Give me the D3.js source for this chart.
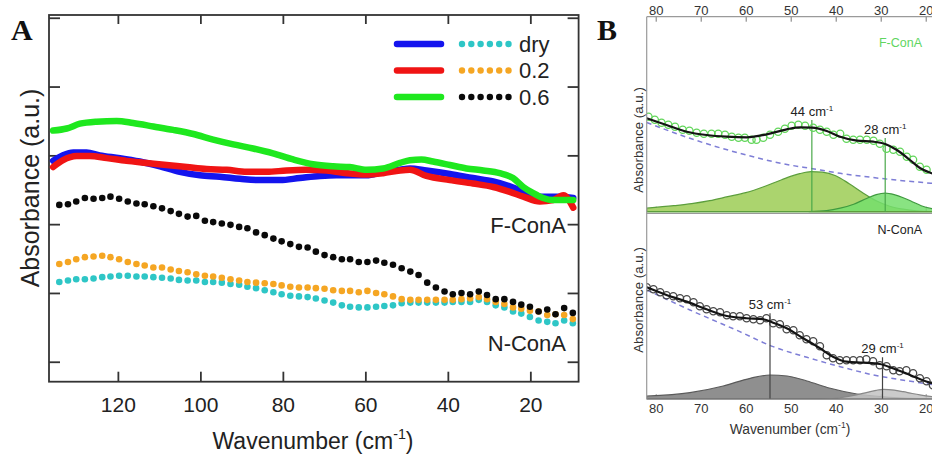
<!DOCTYPE html>
<html><head><meta charset="utf-8">
<script src="https://cdn.jsdelivr.net/npm/d3@7"></script>
<style>
html,body{margin:0;padding:0;background:#fff;}
svg{display:block;font-family:"Liberation Sans",Arial,sans-serif;}
</style>
</head><body>
<svg id="c" width="932" height="457"></svg>
<script>
// ---------------- Panel A data ----------------
const xTicksA = [120, 100, 80, 60, 40, 20];
const yTicksA = [0, 1, 2, 3, 4, 5];
const legendLabels = ["dry", "0.2", "0.6"];

// N-ConA (dotted markers) wavenumber grid
const wnDots = [134.2,132.1,130.1,128.0,125.9,123.8,121.8,119.7,117.6,115.5,113.5,111.4,109.3,107.2,105.2,103.1,101.0,98.9,96.9,94.8,
  92.7,90.6,88.6,86.5,84.4,82.3,80.3,78.2,76.1,74.0,72.0,69.9,67.8,65.7,63.7,61.6,59.5,57.4,55.4,53.3,
  51.2,49.1,47.1,45.0,42.9,40.8,38.8,36.7,34.6,32.5,30.5,28.4,26.3,24.2,22.2,20.1,18.0,15.9,13.9,11.8,9.7];
const nDry = [1.16,1.18,1.20,1.20,1.21,1.23,1.24,1.25,1.25,1.24,1.24,1.23,1.22,1.21,1.19,1.18,1.18,1.16,1.16,1.15,
  1.13,1.12,1.09,1.07,1.04,1.01,0.98,0.96,0.95,0.94,0.92,0.89,0.86,0.82,0.80,0.79,0.79,0.80,0.81,0.82,
  0.85,0.86,0.86,0.86,0.86,0.86,0.87,0.87,0.87,0.90,0.87,0.82,0.79,0.73,0.70,0.65,0.60,0.58,0.56,0.60,0.56];
const n02 = [1.42,1.45,1.49,1.52,1.53,1.54,1.52,1.49,1.45,1.42,1.40,1.37,1.37,1.34,1.32,1.30,1.27,1.25,1.24,1.22,
  1.20,1.18,1.16,1.15,1.14,1.13,1.11,1.09,1.08,1.08,1.07,1.06,1.04,1.03,1.03,1.01,1.03,1.00,0.98,0.95,
  0.91,0.90,0.90,0.90,0.90,0.90,0.90,0.91,0.92,0.94,0.91,0.87,0.84,0.79,0.77,0.74,0.73,0.68,0.69,0.68,0.62];
const n06 = [2.28,2.29,2.33,2.38,2.37,2.38,2.40,2.37,2.33,2.30,2.29,2.26,2.23,2.19,2.15,2.11,2.12,2.05,2.03,2.01,
  1.99,1.96,1.94,1.88,1.84,1.79,1.75,1.71,1.67,1.66,1.60,1.55,1.52,1.49,1.49,1.45,1.45,1.47,1.44,1.41,
  1.36,1.31,1.26,1.15,1.08,1.02,0.98,1.00,0.98,1.02,0.97,0.91,0.91,0.87,0.83,0.80,0.73,0.76,0.69,0.78,0.71];

// F-ConA (solid lines)
const fDryWn = [135.7,133.3,130.8,127.6,124.4,119.5,114.7,109.8,105.0,100.1,95.3,90.4,85.6,80.7,75.9,71.0,67.0,59.7,55.7,51.6,49.2,45.2,39.5,33.9,29.0,25.0,21.7,19.3,16.1,12.8,9.6];
const fDry = [2.92,3.00,3.04,3.04,3.00,2.96,2.91,2.84,2.76,2.71,2.69,2.66,2.64,2.64,2.67,2.70,2.71,2.71,2.76,2.79,2.81,2.78,2.73,2.67,2.62,2.55,2.47,2.40,2.40,2.40,2.38];
const f02Wn = [135.7,133.3,130.0,126.8,122.7,117.9,113.0,108.2,103.3,98.5,93.6,88.8,83.9,79.1,74.3,69.4,64.5,59.7,55.7,51.6,49.2,45.2,39.5,33.9,29.0,25.0,21.7,17.7,14.5,12.0,9.6];
const f02 = [2.83,2.93,2.99,2.99,2.96,2.92,2.89,2.86,2.83,2.80,2.79,2.76,2.76,2.78,2.79,2.78,2.74,2.72,2.74,2.78,2.79,2.70,2.64,2.59,2.54,2.47,2.40,2.33,2.35,2.42,2.24];
const f06Wn = [135.7,132.4,129.2,125.2,120.3,116.3,111.4,106.6,101.7,96.9,92.0,87.2,82.4,77.5,72.7,67.8,63.8,59.7,55.7,51.6,49.2,46.4,43.6,39.5,35.5,31.4,27.4,24.2,21.7,19.3,16.9,14.5,12.0,9.6];
const f06 = [3.36,3.39,3.46,3.49,3.50,3.47,3.42,3.37,3.31,3.23,3.16,3.10,3.03,2.94,2.87,2.84,2.83,2.79,2.81,2.89,2.93,2.94,2.91,2.86,2.81,2.78,2.74,2.67,2.54,2.45,2.38,2.35,2.35,2.35];

// ---------------- Panel B data ----------------
const xTicksB = [80, 70, 60, 50, 40, 30, 20];
// F-ConA (top)
const topCircWn = [81.6,80.2,78.7,77.2,75.7,74.0,72.5,70.9,69.3,67.6,66.1,64.6,63.1,61.6,60.2,58.7,57.6,56.1,54.6,52.8,51.3,49.8,48.3,46.8,45.0,43.5,42.0,40.5,39.0,37.6,36.1,34.6,33.1,31.6,30.2,28.7,27.2,25.7,24.2,22.8,21.3,19.8];
const topCirc = [0.95,0.92,0.89,0.87,0.85,0.82,0.81,0.79,0.78,0.78,0.78,0.77,0.75,0.74,0.74,0.72,0.72,0.74,0.77,0.80,0.83,0.86,0.87,0.86,0.84,0.82,0.80,0.77,0.78,0.73,0.72,0.72,0.72,0.71,0.68,0.63,0.62,0.60,0.55,0.52,0.45,0.42];
const topFitWn = [82,77.6,73.1,68.7,64.2,59.8,55.3,50.9,47.9,45.3,42,39,35.3,31.6,29,26.4,23.5,21.2,18.6,17.6];
const topFit = [0.934,0.867,0.80,0.767,0.75,0.744,0.774,0.824,0.844,0.84,0.807,0.75,0.71,0.70,0.677,0.617,0.517,0.434,0.384,0.37];
const topBaseWn = [82,72.4,61.3,50.2,45.7,39.0,30.2,17.6];
const topBase = [0.892,0.734,0.584,0.467,0.434,0.384,0.334,0.28];
const topPkAWn = [82,76,72,68,64,60,56,52,48,45.5,43,40,37,34,31,28,25,22,17.6];
const topPkA = [0.035,0.06,0.08,0.11,0.15,0.19,0.25,0.32,0.38,0.40,0.395,0.36,0.28,0.19,0.11,0.055,0.025,0.008,0];
const topPkBWn = [46,42,39,36,33,31,29,27,25,23,21,17.6];
const topPkB = [0,0.01,0.035,0.075,0.135,0.17,0.185,0.17,0.14,0.10,0.06,0.02];
const topPeaks = [45.3, 29.0];
const topPeakTop = [0.917, 0.737];
const topPeakLabels = ["44", "28"];
// N-ConA (bottom)
const botCircWn = [82.0,80.5,79.0,77.6,76.1,74.6,73.1,71.6,70.2,68.7,67.2,65.7,64.2,62.8,61.3,59.8,58.3,56.8,55.4,53.9,52.4,50.9,49.4,48.0,46.5,45.0,43.5,42.0,40.6,39.1,37.6,36.1,34.6,33.2,31.7,30.2,28.7,27.2,25.8,24.3,22.8,21.3,19.8,18.4];
const botCirc = [1.12,1.10,1.07,1.04,1.03,1.01,1.00,0.97,0.93,0.90,0.88,0.87,0.84,0.83,0.83,0.81,0.80,0.79,0.81,0.76,0.75,0.70,0.69,0.64,0.60,0.58,0.53,0.44,0.41,0.39,0.39,0.39,0.39,0.40,0.38,0.34,0.33,0.29,0.28,0.29,0.26,0.21,0.18,0.14];
const botFitWn = [82,77.6,73.1,68.7,64.2,59.8,56.1,53.9,50.9,47.2,43.5,40.6,37.6,33.9,30.2,27.3,23.5,18.6,17.6];
const botFit = [1.12,1.043,0.976,0.90,0.833,0.81,0.80,0.766,0.71,0.61,0.51,0.426,0.376,0.366,0.353,0.31,0.243,0.16,0.15];
const botBaseWn = [82,72.4,61.3,53.9,46.4,39.0,31.6,24.2,17.6];
const botBase = [1.093,0.893,0.676,0.526,0.42,0.326,0.243,0.186,0.14];
const botPkAWn = [82,72.4,65.0,59.0,54.6,50.8,46.4,41.2,35.3,27.9,17.6];
const botPkA = [0.033,0.066,0.133,0.21,0.243,0.233,0.183,0.11,0.053,0.02,0.003];
const botPkBWn = [43,40,36,33,31,29.4,27,25,23,21,17.6];
const botPkB = [0,0.01,0.04,0.07,0.09,0.10,0.092,0.076,0.058,0.042,0.02];
const botPeaks = [54.6, 29.6];
const botPeakTop = [0.86, 0.42];
const botPeakLabels = ["53", "29"];

// ---------------- drawing ----------------
const svg = d3.select("#c");
const zip = (w, v) => w.map((d, i) => ({x: d, y: v[i]}));

function supText(g, x, y, main, sup, tail, fs, anchor, color) {
  const t = g.append("text").attr("x", x).attr("y", y).attr("font-size", fs)
    .attr("text-anchor", anchor).attr("fill", color);
  t.append("tspan").text(main);
  t.append("tspan").attr("font-size", fs * 0.62).attr("dy", -fs * 0.42).text(sup);
  if (tail) t.append("tspan").attr("dy", fs * 0.42).text(tail);
  return t;
}

// ===== Panel A =====
const A = {l: 49, r: 578.6, t: 15, b: 381.7};
const xA = d3.scaleLinear().domain([136.7, 8.3]).range([A.l, A.r]);
const yA = d3.scaleLinear().domain([-0.29, 5.04]).range([A.b, A.t]);
const gA = svg.append("g");

gA.append("rect").attr("x", A.l).attr("y", A.t).attr("width", A.r - A.l).attr("height", A.b - A.t)
  .attr("fill", "none").attr("stroke", "#333").attr("stroke-width", 1.8);

function styleAxis(g, col, w) {
  g.select(".domain").remove();
  g.selectAll(".tick line").attr("stroke", col).attr("stroke-width", w);
}
const axB = gA.append("g").attr("transform", `translate(0,${A.b})`)
  .call(d3.axisBottom(xA).tickValues(xTicksA).tickSizeInner(-10).tickSizeOuter(0).tickPadding(15.5));
styleAxis(axB, "#333", 1.8);
axB.selectAll("text").attr("font-size", 21).attr("fill", "#222").attr("font-family", "Liberation Sans, Arial, sans-serif");
const axT = gA.append("g").attr("transform", `translate(0,${A.t})`)
  .call(d3.axisTop(xA).tickValues(xTicksA).tickSizeInner(-9).tickSizeOuter(0).tickFormat(""));
styleAxis(axT, "#333", 1.8);
const axL = gA.append("g").attr("transform", `translate(${A.l},0)`)
  .call(d3.axisLeft(yA).tickValues(yTicksA).tickSizeInner(-11).tickSizeOuter(0).tickFormat(""));
styleAxis(axL, "#333", 1.8);
const axR = gA.append("g").attr("transform", `translate(${A.r},0)`)
  .call(d3.axisRight(yA).tickValues(yTicksA).tickSizeInner(-11).tickSizeOuter(0).tickFormat(""));
styleAxis(axR, "#333", 1.8);

const lineA = d3.line().x(d => xA(d.x)).y(d => yA(d.y)).curve(d3.curveMonotoneX);
const solidSeries = [
  {w: fDryWn, v: fDry, c: "#1414ee"},
  {w: f02Wn, v: f02, c: "#f01414"},
  {w: f06Wn, v: f06, c: "#1ee81e"}
];
solidSeries.forEach(s => {
  gA.append("path").datum(zip(s.w, s.v)).attr("d", lineA).attr("fill", "none")
    .attr("stroke", s.c).attr("stroke-width", 6.5).attr("stroke-linecap", "round").attr("stroke-linejoin", "round");
});
const dotSeries = [
  {v: nDry, c: "#2ec6c6"},
  {v: n02, c: "#f5a623"},
  {v: n06, c: "#0a0a0a"}
];
dotSeries.forEach(s => {
  gA.append("g").selectAll("circle").data(zip(wnDots, s.v)).join("circle")
    .attr("cx", d => xA(d.x)).attr("cy", d => yA(d.y)).attr("r", 3.3).attr("fill", s.c);
});

// legend
const legY = [44, 70.5, 97];
const legSolid = ["#1414ee", "#f01414", "#1ee81e"];
const legDot = ["#2ec6c6", "#f5a623", "#0a0a0a"];
legendLabels.forEach((lab, i) => {
  gA.append("line").attr("x1", 397).attr("x2", 441).attr("y1", legY[i]).attr("y2", legY[i])
    .attr("stroke", legSolid[i]).attr("stroke-width", 6.5).attr("stroke-linecap", "round");
  d3.range(6).forEach(k => {
    gA.append("circle").attr("cx", 462 + k * 9.3).attr("cy", legY[i]).attr("r", 3.2).attr("fill", legDot[i]);
  });
  gA.append("text").attr("x", 519).attr("y", legY[i] + 7.5).attr("font-size", 22).attr("fill", "#222").text(lab);
});

gA.append("text").attr("x", 566).attr("y", 233).attr("text-anchor", "end").attr("font-size", 22).attr("fill", "#222").text("F-ConA");
gA.append("text").attr("x", 566).attr("y", 351).attr("text-anchor", "end").attr("font-size", 22).attr("fill", "#222").text("N-ConA");

gA.append("text").attr("x", 39).attr("y", 188).attr("text-anchor", "middle").attr("font-size", 25).attr("fill", "#222")
  .attr("transform", "rotate(-90,39,188)").text("Absorbance (a.u.)");
supText(gA, 313, 449, "Wavenumber (cm", "-1", ")", 23, "middle", "#222");

svg.append("text").attr("x", 11).attr("y", 40).attr("font-family", "Liberation Serif, Times New Roman, serif")
  .attr("font-weight", "bold").attr("font-size", 30).attr("fill", "#111").text("A");
svg.append("text").attr("x", 597).attr("y", 40).attr("font-family", "Liberation Serif, Times New Roman, serif")
  .attr("font-weight", "bold").attr("font-size", 30).attr("fill", "#111").text("B");

// ===== Panel B =====
const B = {l: 646.7, r: 936.5, t: 16.7, mid1: 211.7, mid2: 213.5, b: 399.3};
const xB = d3.scaleLinear().domain([82, 17.6]).range([B.l, B.r]);
const yBt = d3.scaleLinear().domain([0, 1.95]).range([B.mid1, B.t]);
const yBb = d3.scaleLinear().domain([0, 1.857]).range([B.b, B.mid2]);
const gB = svg.append("g");
const defs = svg.append("defs");
defs.append("clipPath").attr("id", "clipT").append("rect").attr("x", B.l).attr("y", B.t).attr("width", B.r - B.l).attr("height", B.mid1 - B.t + 1);
defs.append("clipPath").attr("id", "clipB").append("rect").attr("x", B.l).attr("y", B.mid2).attr("width", B.r - B.l).attr("height", B.b - B.mid2);

const bT = gB.append("g").attr("transform", `translate(0,${B.t})`)
  .call(d3.axisTop(xB).tickValues(xTicksB).tickSizeInner(-5).tickSizeOuter(0).tickPadding(2));
styleAxis(bT, "#777", 1);
bT.selectAll("text").attr("font-size", 13).attr("fill", "#333").attr("font-family", "Liberation Sans, Arial, sans-serif");
const bM = gB.append("g").attr("transform", `translate(0,${B.mid1})`)
  .call(d3.axisBottom(xB).tickValues(xTicksB).tickSizeInner(-5).tickSizeOuter(0).tickFormat(""));
styleAxis(bM, "#777", 1);
const bB = gB.append("g").attr("transform", `translate(0,${B.b})`)
  .call(d3.axisBottom(xB).tickValues(xTicksB).tickSizeInner(-5).tickSizeOuter(0).tickPadding(4.5));
styleAxis(bB, "#777", 1);
bB.selectAll("text").attr("font-size", 13).attr("fill", "#333").attr("font-family", "Liberation Sans, Arial, sans-serif");

function drawSub(yS, clip, p) {
  const g = gB.append("g").attr("clip-path", `url(#${clip})`);
  const y0 = yS(0);
  const area = d3.area().x(d => xB(d.x)).y0(y0).y1(d => yS(d.y)).curve(d3.curveMonotoneX);
  const line = d3.line().x(d => xB(d.x)).y(d => yS(d.y)).curve(d3.curveMonotoneX);
  g.append("path").datum(zip(p.aW, p.aV)).attr("d", area).attr("fill", p.aFill).attr("stroke", p.aStroke).attr("stroke-width", 1.2);
  g.append("path").datum(zip(p.bW, p.bV)).attr("d", area).attr("fill", p.bFill).attr("fill-opacity", 0.85).attr("stroke", p.bStroke).attr("stroke-width", 1.2);
  g.append("line").attr("x1", B.l).attr("x2", B.r).attr("y1", y0).attr("y2", y0).attr("stroke", p.aStroke).attr("stroke-width", 1.5);
  g.append("path").datum(zip(p.baseW, p.baseV)).attr("d", line).attr("fill", "none")
    .attr("stroke", "#7e7ed6").attr("stroke-width", 1.5).attr("stroke-dasharray", "5,4");
  p.peaks.forEach((pk, i) => {
    g.append("line").attr("x1", xB(pk)).attr("x2", xB(pk)).attr("y1", yS(p.peakTop[i])).attr("y2", y0)
      .attr("stroke", p.vline).attr("stroke-width", 1.2);
    supText(gB, xB(pk), yS(p.peakTop[i]) - 4, p.labels[i] + " cm", "-1", null, 13, "middle", "#222");
  });
  g.append("g").selectAll("circle").data(zip(p.cW, p.cV)).join("circle")
    .attr("cx", d => xB(d.x)).attr("cy", d => yS(d.y)).attr("r", 3.6)
    .attr("fill", "none").attr("stroke", p.circ).attr("stroke-width", 1.3);
  g.append("path").datum(zip(p.fW, p.fV)).attr("d", line).attr("fill", "none")
    .attr("stroke", "#141414").attr("stroke-width", 2.2);
}
drawSub(yBt, "clipT", {
  aW: topPkAWn, aV: topPkA, aFill: "#abd46e", aStroke: "#5c9e3c",
  bW: topPkBWn, bV: topPkB, bFill: "#74de6c", bStroke: "#3f9a3f",
  baseW: topBaseWn, baseV: topBase, peaks: topPeaks, peakTop: topPeakTop, labels: topPeakLabels,
  vline: "#4aa84a", cW: topCircWn, cV: topCirc, circ: "#62d65a", fW: topFitWn, fV: topFit
});
drawSub(yBb, "clipB", {
  aW: botPkAWn, aV: botPkA, aFill: "#8f8f8f", aStroke: "#5a5a5a",
  bW: botPkBWn, bV: botPkB, bFill: "#c2c2c2", bStroke: "#888",
  baseW: botBaseWn, baseV: botBase, peaks: botPeaks, peakTop: botPeakTop, labels: botPeakLabels,
  vline: "#444", cW: botCircWn, cV: botCirc, circ: "#4a4a4a", fW: botFitWn, fV: botFit
});

const fr = gB.append("g").attr("stroke", "#9a9a9a").attr("stroke-width", 1.2);
fr.append("line").attr("x1", B.l).attr("x2", B.l).attr("y1", B.t).attr("y2", B.b);
fr.append("line").attr("x1", B.l).attr("x2", B.r).attr("y1", B.t).attr("y2", B.t);
fr.append("line").attr("x1", B.l).attr("x2", B.r).attr("y1", B.mid2).attr("y2", B.mid2);
fr.append("line").attr("x1", B.l).attr("x2", B.r).attr("y1", B.b).attr("y2", B.b);

gB.append("text").attr("x", 922).attr("y", 47).attr("text-anchor", "end").attr("font-size", 12.5).attr("fill", "#5fd65f").text("F-ConA");
gB.append("text").attr("x", 922).attr("y", 234).attr("text-anchor", "end").attr("font-size", 12.5).attr("fill", "#222").text("N-ConA");

gB.append("text").attr("x", 643).attr("y", 140).attr("text-anchor", "middle").attr("font-size", 13.3).attr("fill", "#333")
  .attr("transform", "rotate(-90,643,140)").text("Absorbance (a.u.)");
gB.append("text").attr("x", 643).attr("y", 300).attr("text-anchor", "middle").attr("font-size", 13.3).attr("fill", "#333")
  .attr("transform", "rotate(-90,643,300)").text("Absorbance (a.u.)");
supText(gB, 790, 434, "Wavenumber (cm", "-1", ")", 13.8, "middle", "#333");
</script>
</body></html>
